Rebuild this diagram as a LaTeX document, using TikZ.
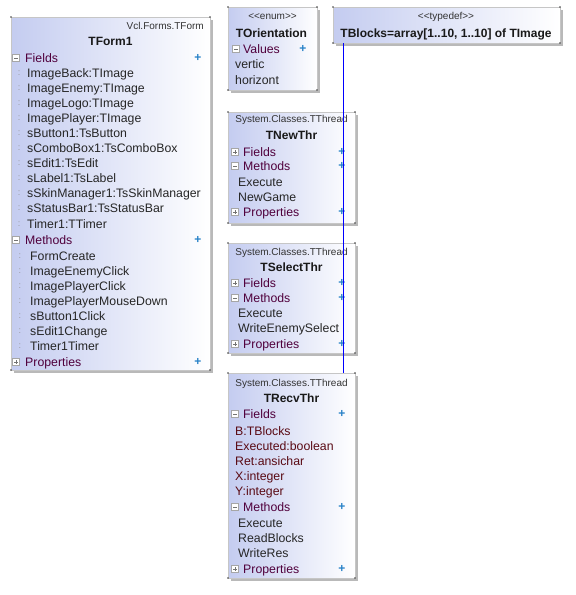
\documentclass[tikz,border=0pt]{standalone}
\usepackage{fontspec}
\setmainfont{Liberation Sans}
\usetikzlibrary{shadows}
\definecolor{boxl}{RGB}{196,204,240}
\definecolor{secc}{RGB}{80,0,60}
\definecolor{fldc}{RGB}{90,10,20}
\definecolor{plusc}{RGB}{40,130,200}
\definecolor{connc}{RGB}{0,0,255}
\begin{document}
\begin{tikzpicture}[x=1pt,y=-1pt,
  umlbox/.style={draw=gray!45, line width=0.4pt, left color=boxl, right color=white,
    anchor=north west, inner sep=0pt, outer sep=0pt,
    general shadow={fill=gray!55, shadow xshift=3pt, shadow yshift=-3pt}},
  stereo/.style={font=\fontsize{10}{12}\selectfont, text=black!80, inner sep=0pt, anchor=base},
  cname/.style={font=\bfseries\fontsize{12}{14}\selectfont, text=black!90, inner sep=0pt, anchor=base},
  sec/.style={font=\fontsize{12.3}{14}\selectfont, text=secc, inner sep=0pt, anchor=base west},
  itm/.style={font=\fontsize{12.3}{14}\selectfont, text=black!85, inner sep=0pt, anchor=base west},
  fld/.style={itm, text=fldc},
  dotmark/.style={font=\fontsize{9}{10}\selectfont, text=gray!80, inner sep=0pt, anchor=center},
  plusmark/.style={font=\bfseries\fontsize{12}{12}\selectfont, text=plusc, inner sep=0pt, anchor=center},
  minusbox/.style={draw=gray!70, fill=white, minimum size=7pt, inner sep=0pt, line width=0.4pt,
    path picture={\draw[gray!90!black, line width=0.5pt] ([xshift=1.5pt]path picture bounding box.west) -- ([xshift=-1.5pt]path picture bounding box.east);}},
  plusbox/.style={minusbox,
    path picture={\draw[gray!90!black, line width=0.5pt] ([xshift=1.5pt]path picture bounding box.west) -- ([xshift=-1.5pt]path picture bounding box.east);
      \draw[gray!90!black, line width=0.5pt] ([yshift=-1.5pt]path picture bounding box.north) -- ([yshift=1.5pt]path picture bounding box.south);}},
  conn/.style={draw=connc, line width=1pt}
]
\useasboundingbox (0,0) rectangle (576,595);
\fill[white] (0,0) rectangle (576,595);

% ---------- boxes ----------
\node[umlbox, minimum width=199pt, minimum height=353pt] (form) at (11,17) {};
\node[umlbox, minimum width=89pt, minimum height=83pt] (enum) at (228,7) {};
\node[umlbox, minimum width=227pt, minimum height=36pt] (tdef) at (333,7) {};
\node[umlbox, minimum width=127pt, minimum height=111pt] (newthr) at (228,112) {};
\node[umlbox, minimum width=127pt, minimum height=110pt] (selthr) at (228,243) {};
\node[umlbox, minimum width=127pt, minimum height=205pt] (recvthr) at (228,373) {};

\foreach \b in {form,enum,tdef,newthr,selthr,recvthr}
  \foreach \a in {north west,north east,south west,south east}
    \fill[black!75] (\b.\a) circle (0.9pt);

% ---------- TForm1 ----------
\node[stereo, anchor=base east] (formst) at (204,29) {Vcl.Forms.TForm};
\node[cname] (formname) at (110.5,45) {TForm1};
\node[minusbox] (formfi) at (16,58) {};
\node[sec] (formf) at (25,62) {Fields};
\node[plusmark] (formfp) at (198,58) {+};
\foreach \y/\t [count=\i] in {73/ImageBack:TImage, 88/ImageEnemy:TImage, 103/ImageLogo:TImage,
   118/ImagePlayer:TImage, 133/sButton1:TsButton, 148/sComboBox1:TsComboBox, 163/sEdit1:TsEdit,
   178/sLabel1:TsLabel, 193/sSkinManager1:TsSkinManager, 208/sStatusBar1:TsStatusBar, 224/Timer1:TTimer}{
  \node[dotmark] (formfm\i) at (19,\y) {:};
  \node[itm] (formfl\i) at (27,\y+4.3) {\t};
}
\node[minusbox] (formmi) at (16,240) {};
\node[sec] (formm) at (25,244) {Methods};
\node[plusmark] (formmp) at (198,240) {+};
\foreach \y/\t [count=\i] in {256/FormCreate, 271/ImageEnemyClick, 286/ImagePlayerClick,
   301/ImagePlayerMouseDown, 316/sButton1Click, 331/sEdit1Change, 346/Timer1Timer}{
  \node[dotmark] (formmm\i) at (20,\y) {:};
  \node[itm] (formml\i) at (30,\y+4.3) {\t};
}
\node[plusbox] (formpi) at (16,362) {};
\node[sec] (formp) at (25,366) {Properties};
\node[plusmark] (formpp) at (198,362) {+};

% ---------- TOrientation ----------
\node[stereo] (enumst) at (272.5,19.6) {<{}<enum>{}>};
\node[cname] (enumname) at (271.5,37.3) {TOrientation};
\node[minusbox] (enumvi) at (236,49) {};
\node[sec] (enumv) at (243,53.3) {Values};
\node[plusmark] (enumvp) at (303,49) {+};
\node[itm] (enum1) at (235,68.3) {vertic};
\node[itm] (enum2) at (235,84.3) {horizont};

% ---------- typedef ----------
\node[stereo] (tdefst) at (446,19.6) {<{}<typedef>{}>};
\node[cname] (tdefname) at (446,37.3) {TBlocks=array[1..10, 1..10] of TImage};

% ---------- TNewThr ----------
\node[stereo] (newst) at (291.5,122.6) {System.Classes.TThread};
\node[cname] (newname) at (291.5,139.3) {TNewThr};
\node[plusbox] (newfi) at (235,152) {};
\node[sec] (newf) at (243,156.3) {Fields};
\node[plusmark] (newfp) at (342,152) {+};
\node[minusbox] (newmi) at (235,166) {};
\node[sec] (newm) at (243,170.3) {Methods};
\node[plusmark] (newmp) at (342,166) {+};
\node[itm] (new1) at (238,186.3) {Execute};
\node[itm] (new2) at (238,201.3) {NewGame};
\node[plusbox] (newpi) at (235,212) {};
\node[sec] (newp) at (243,216.3) {Properties};
\node[plusmark] (newpp) at (342,212) {+};

% ---------- TSelectThr ----------
\node[stereo] (selst) at (291.5,255.6) {System.Classes.TThread};
\node[cname] (selname) at (291.5,271.3) {TSelectThr};
\node[plusbox] (selfi) at (235,283) {};
\node[sec] (self) at (243,287.3) {Fields};
\node[plusmark] (selfp) at (342,283) {+};
\node[minusbox] (selmi) at (235,298) {};
\node[sec] (selm) at (243,302.3) {Methods};
\node[plusmark] (selmp) at (342,298) {+};
\node[itm] (sel1) at (238,317.3) {Execute};
\node[itm] (sel2) at (238,332.3) {WriteEnemySelect};
\node[plusbox] (selpi) at (235,344) {};
\node[sec] (selp) at (243,348.3) {Properties};
\node[plusmark] (selpp) at (342,344) {+};

% ---------- TRecvThr ----------
\node[stereo] (recvst) at (291.5,386.6) {System.Classes.TThread};
\node[cname] (recvname) at (291.5,402.3) {TRecvThr};
\node[minusbox] (recvfi) at (235,414) {};
\node[sec] (recvf) at (243,418.3) {Fields};
\node[plusmark] (recvfp) at (342,414) {+};
\foreach \y/\t [count=\i] in {431/B:TBlocks, 446/Executed:boolean, 461/Ret:ansichar, 476/X:integer, 491/Y:integer}{
  \node[fld] (recvfl\i) at (235,\y+4.3) {\t};
}
\node[minusbox] (recvmi) at (235,507) {};
\node[sec] (recvm) at (243,511.3) {Methods};
\node[plusmark] (recvmp) at (342,507) {+};
\foreach \y/\t [count=\i] in {523/Execute, 538/ReadBlocks, 553/WriteRes}{
  \node[itm] (recvml\i) at (238,\y+4.3) {\t};
}
\node[plusbox] (recvpi) at (235,569) {};
\node[sec] (recvp) at (243,573.3) {Properties};
\node[plusmark] (recvpp) at (342,569) {+};

% ---------- connector ----------
\coordinate (cstart) at ([xshift=10pt]tdef.south west);
\draw[conn] (cstart) -- (cstart |- recvthr.north);
\end{tikzpicture}
\end{document}
